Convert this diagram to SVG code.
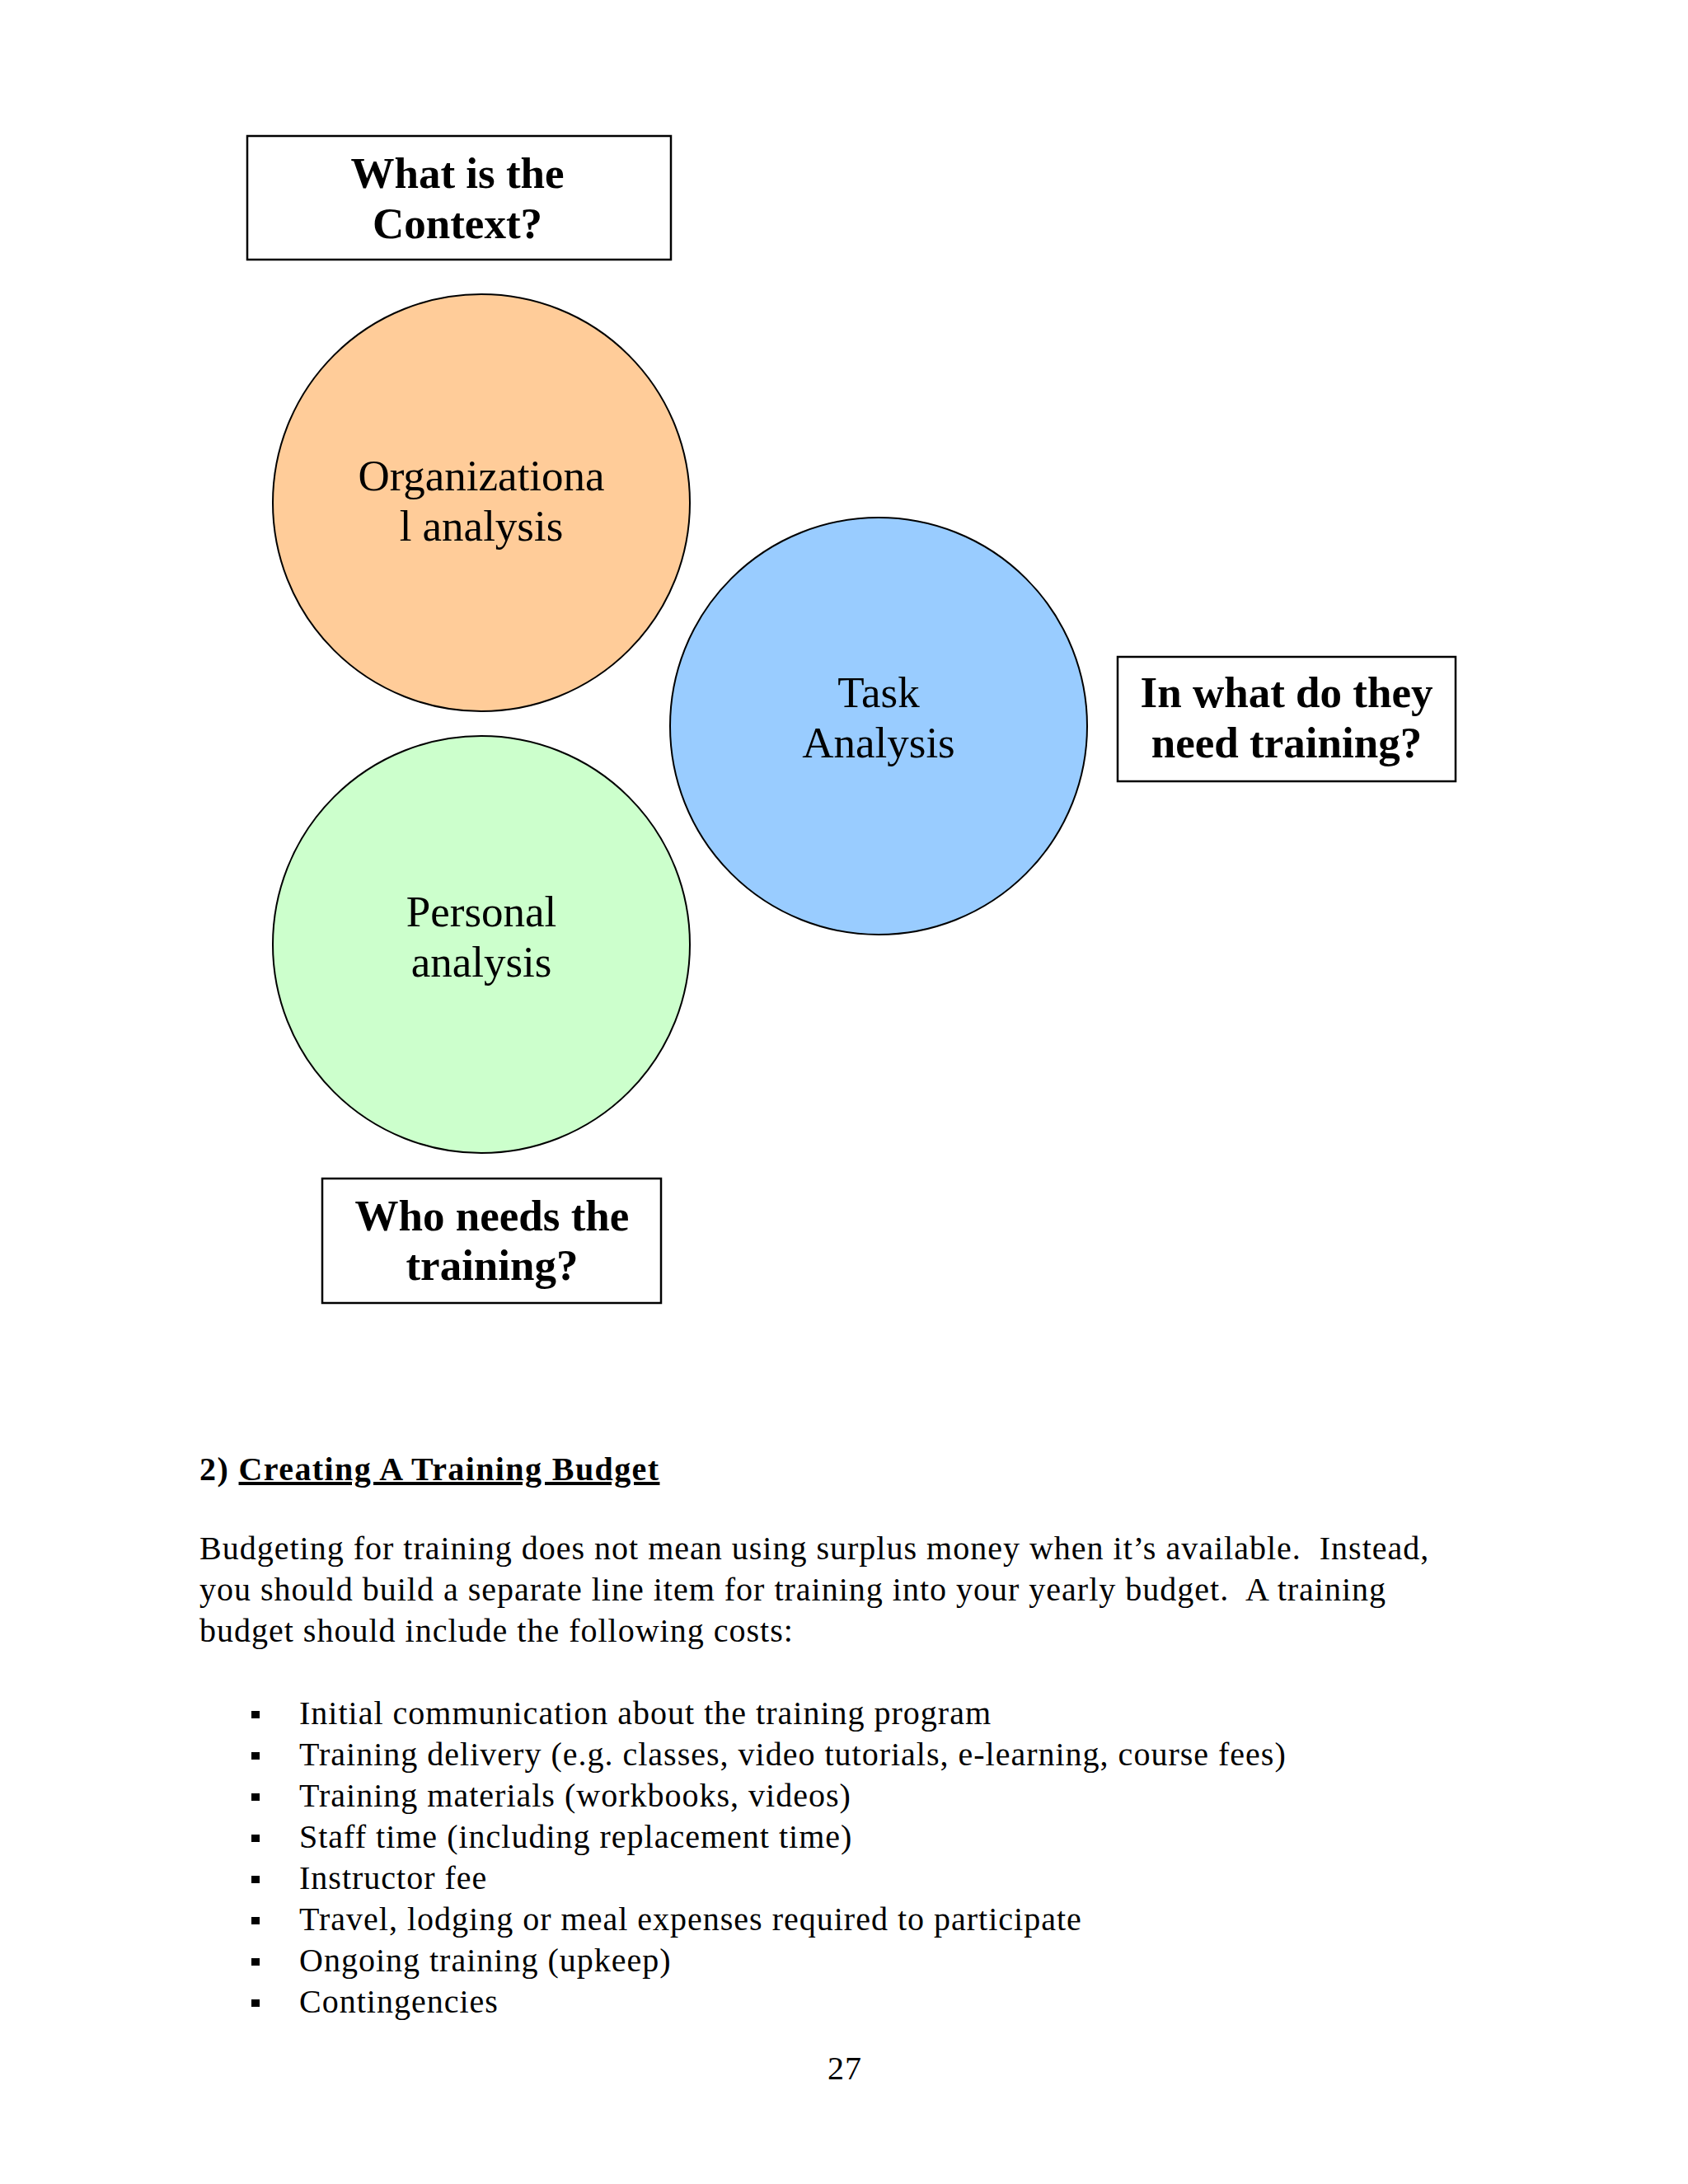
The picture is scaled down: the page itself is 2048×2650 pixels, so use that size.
<svg xmlns="http://www.w3.org/2000/svg" width="2048" height="2650" viewBox="0 0 2048 2650">
<style>
.box{fill:#ffffff;stroke:#000000;stroke-width:2.5}
.circ{stroke:#000000;stroke-width:2}
.q{font-family:"Liberation Serif","Times New Roman",serif;font-weight:bold;font-size:53px;fill:#000;text-anchor:middle}
.c{font-family:"Liberation Serif","Times New Roman",serif;font-size:53px;fill:#000;text-anchor:middle}
.b{font-family:"Liberation Serif","Times New Roman",serif;font-size:40px;fill:#000;letter-spacing:1px}
.h{font-family:"Liberation Serif","Times New Roman",serif;font-size:40px;font-weight:bold;fill:#000;letter-spacing:1.4px}
.bul{fill:#000}
</style>
<rect x="0" y="0" width="2048" height="2650" fill="#ffffff"/>
<g id="connectors"></g>
<g id="box-context">
<rect class="box" x="300" y="165" width="514" height="150"/>
<text class="q" x="555" y="228">What is the</text>
<text class="q" x="555" y="289">Context?</text>
</g>
<g id="node-org">
<circle class="circ" cx="584" cy="610" r="253" fill="#FFCC99"/>
<text class="c" x="584" y="595">Organizationa</text>
<text class="c" x="584" y="656">l analysis</text>
</g>
<g id="node-task">
<circle class="circ" cx="1066" cy="881" r="253" fill="#99CCFF"/>
<text class="c" x="1066" y="858">Task</text>
<text class="c" x="1066" y="919">Analysis</text>
</g>
<g id="node-personal">
<circle class="circ" cx="584" cy="1146" r="253" fill="#CCFFCC"/>
<text class="c" x="584" y="1124">Personal</text>
<text class="c" x="584" y="1185">analysis</text>
</g>
<g id="box-what">
<rect class="box" x="1356" y="797" width="410" height="151"/>
<text class="q" x="1561" y="858">In what do they</text>
<text class="q" x="1561" y="919">need training?</text>
</g>
<g id="box-who">
<rect class="box" x="391" y="1430" width="411" height="151"/>
<text class="q" x="597" y="1493">Who needs the</text>
<text class="q" x="597" y="1553">training?</text>
</g>
<g id="text-section">
<text class="h" x="242" y="1796">2) <tspan text-decoration="underline">Creating A Training Budget</tspan></text>
<text class="b" x="242" y="1892">Budgeting for training does not mean using surplus money when it’s available.&#160; Instead,</text>
<text class="b" x="242" y="1942">you should build a separate line item for training into your yearly budget.&#160; A training</text>
<text class="b" x="242" y="1992">budget should include the following costs:</text>
<rect class="bul" x="305" y="2076" width="10" height="9"/>
<text class="b" x="363" y="2092">Initial communication about the training program</text>
<rect class="bul" x="305" y="2126" width="10" height="9"/>
<text class="b" x="363" y="2142">Training delivery (e.g. classes, video tutorials, e-learning, course fees)</text>
<rect class="bul" x="305" y="2176" width="10" height="9"/>
<text class="b" x="363" y="2192">Training materials (workbooks, videos)</text>
<rect class="bul" x="305" y="2226" width="10" height="9"/>
<text class="b" x="363" y="2242">Staff time (including replacement time)</text>
<rect class="bul" x="305" y="2276" width="10" height="9"/>
<text class="b" x="363" y="2292">Instructor fee</text>
<rect class="bul" x="305" y="2326" width="10" height="9"/>
<text class="b" x="363" y="2342">Travel, lodging or meal expenses required to participate</text>
<rect class="bul" x="305" y="2376" width="10" height="9"/>
<text class="b" x="363" y="2392">Ongoing training (upkeep)</text>
<rect class="bul" x="305" y="2426" width="10" height="9"/>
<text class="b" x="363" y="2442">Contingencies</text>
<text class="b" x="1025" y="2523" text-anchor="middle" letter-spacing="0">27</text>
</g>
</svg>
